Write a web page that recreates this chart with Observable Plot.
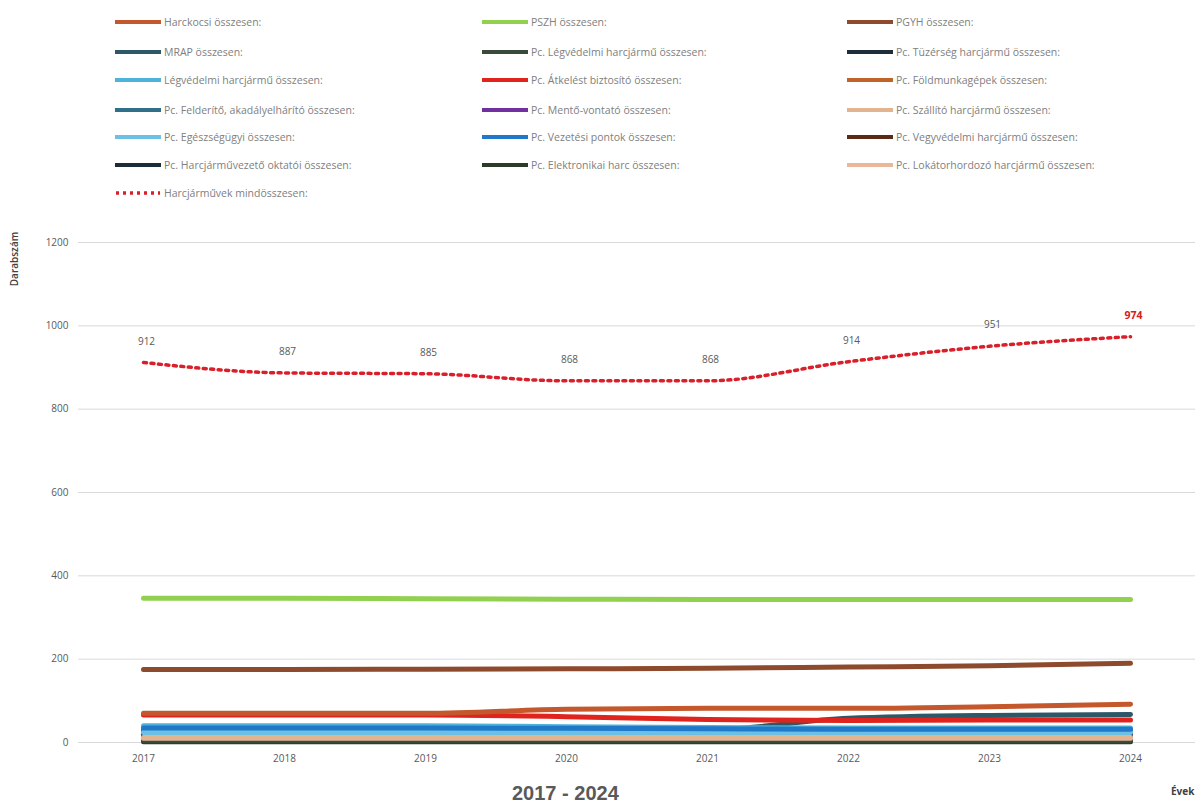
<!DOCTYPE html>
<html>
<head>
<meta charset="utf-8">
<script src="https://cdn.jsdelivr.net/npm/d3@7"></script>
<script src="https://cdn.jsdelivr.net/npm/@observablehq/plot@0.6"></script>
<style>
  html, body { margin: 0; padding: 0; background: #fff; width: 1201px; height: 808px; overflow: hidden; font-family: "Open Sans", sans-serif; }
  #wrap { position: relative; width: 1201px; height: 808px; }
  .leg { position: absolute; display: flex; align-items: center; font-size: 10.5px; color: #808080; white-space: nowrap; }
  .leg svg { margin-right: 3px; }
  #chart { position: absolute; left: 0; top: 215px; }
  .lbl { position: absolute; color: #595959; }
</style>
</head>
<body>
<div id="wrap">
  <div id="legend"></div>
  <div id="chart"></div>
  <div class="lbl" style="left:-14px; top:252px; width:56px; text-align:center; transform: rotate(-90deg); font-size:10px; font-weight:600; color:#404040;">Darabszám</div>
  <div class="lbl" style="left:512px; top:782px; font-size:20px; font-weight:700; font-family:'Liberation Sans', sans-serif;">2017 - 2024</div>
  <div class="lbl" style="left:1171px; top:784px; font-size:10px; font-weight:700; color:#404040;">Évek</div>
</div>
<script>
// ---- data ----
const years = [2017, 2018, 2019, 2020, 2021, 2022, 2023, 2024];
const seriesNames = [
  "Harckocsi összesen:", "PSZH összesen:", "PGYH összesen:",
  "MRAP összesen:", "Pc. Légvédelmi harcjármű összesen:", "Pc. Tüzérség harcjármű összesen:",
  "Légvédelmi harcjármű összesen:", "Pc. Átkelést biztosító összesen:", "Pc. Földmunkagépek összesen:",
  "Pc. Felderítő, akadályelhárító összesen:", "Pc. Mentő-vontató összesen:", "Pc. Szállító harcjármű összesen:",
  "Pc. Egészségügyi összesen:", "Pc. Vezetési pontok összesen:", "Pc. Vegyvédelmi harcjármű összesen:",
  "Pc. Harcjárművezető oktatói összesen:", "Pc. Elektronikai harc összesen:", "Pc. Lokátorhordozó harcjármű összesen:"
];
const seriesColors = [
  "#c4582c", "#92d050", "#8e4a2c",
  "#2c5868", "#3a4a3a", "#1f2d3a",
  "#4fb3d9", "#e0231c", "#c0652a",
  "#2f6f8a", "#7030a0", "#e2b48f",
  "#6cc0e6", "#1f78c8", "#5a2a15",
  "#1c2c38", "#2b3b26", "#e8b898"
];
const harckocsi     = [70, 70, 70, 80, 82, 82, 86, 92];
const pszh          = [346, 346, 345, 344, 343, 343, 343, 343];
const pgyh          = [175, 175, 176, 177, 178, 181, 184, 190];
const mrap          = [28, 28, 28, 28, 30, 58, 65, 67];
const pcLegvedelmi  = [4, 4, 4, 4, 4, 4, 4, 4];
const pcTuzerseg    = [20, 20, 20, 20, 20, 20, 20, 20];
const legvedelmi    = [40, 40, 40, 38, 36, 35, 35, 35];
const pcAtkeles     = [66, 66, 66, 62, 55, 53, 54, 54];
const pcFoldmunka   = [12, 12, 12, 12, 12, 12, 12, 12];
const pcFelderito   = [30, 30, 30, 30, 30, 30, 30, 30];
const pcMento       = [14, 14, 14, 14, 14, 14, 14, 14];
const pcSzallito    = [12, 12, 12, 12, 12, 12, 12, 12];
const pcEgeszseg    = [24, 24, 24, 24, 24, 24, 24, 24];
const pcVezetesi    = [35, 35, 35, 34, 33, 32, 32, 32];
const pcVegyvedelmi = [8, 8, 8, 8, 8, 8, 8, 8];
const pcOktatoi     = [6, 6, 6, 6, 6, 6, 6, 6];
const pcElektronikai= [2, 2, 2, 2, 2, 2, 2, 2];
const pcLokator     = [10, 10, 10, 10, 10, 10, 10, 10];
const totalName = "Harcjárművek mindösszesen:";
const total         = [912, 887, 885, 868, 868, 914, 951, 974];
const yTicks = [0, 200, 400, 600, 800, 1000, 1200];

const seriesValues = [
  harckocsi, pszh, pgyh, mrap, pcLegvedelmi, pcTuzerseg, legvedelmi, pcAtkeles, pcFoldmunka,
  pcFelderito, pcMento, pcSzallito, pcEgeszseg, pcVezetesi, pcVegyvedelmi, pcOktatoi, pcElektronikai, pcLokator
];

// drawing order (later on top)
const drawOrder = [16, 15, 14, 4, 5, 8, 10, 3, 9, 17, 11, 12, 6, 13, 7, 0, 2, 1];
const rows = [];
drawOrder.forEach((si, k) => {
  years.forEach((yr, i) => rows.push({ series: seriesNames[si], order: k, year: String(yr), value: seriesValues[si][i] }));
});
const totalRows = years.map((yr, i) => ({ year: String(yr), value: total[i], last: i === years.length - 1 }));

// ---- legend ----
const legend = document.getElementById("legend");
const colX = [115, 482, 847];
const rowY = [22, 52, 80, 110, 137, 165, 193];
function addLegend(name, color, i, dotted) {
  const col = i % 3, row = Math.floor(i / 3);
  const d = document.createElement("div");
  d.className = "leg";
  d.style.left = colX[col] + "px";
  d.style.top = (rowY[row] - 8) + "px";
  d.style.height = "16px";
  const line = dotted
    ? `<svg width="46" height="8"><line x1="1" y1="4" x2="45" y2="4" stroke="${color}" stroke-width="3.5" stroke-dasharray="3,4"/></svg>`
    : `<svg width="46" height="8"><line x1="0" y1="4" x2="46" y2="4" stroke="${color}" stroke-width="4"/></svg>`;
  d.innerHTML = line + `<span>${name}</span>`;
  legend.appendChild(d);
}
seriesNames.forEach((n, i) => addLegend(n, seriesColors[i], i, false));
addLegend(totalName, "#d9202a", 18, true);

// ---- chart ----
const chart = Plot.plot({
  width: 1201,
  height: 593,
  marginTop: 27,
  marginBottom: 66,
  marginLeft: 78,
  marginRight: 6,
  style: { fontFamily: "Open Sans, sans-serif", fontSize: "10px", color: "#595959", background: "#fff" },
  x: { type: "point", domain: years.map(String), padding: 0.458, label: null, tickSize: 0, tickPadding: 12 },
  y: { domain: [0, 1200], ticks: yTicks, tickFormat: d => String(d), label: null, tickSize: 0, tickPadding: 10 },
  color: { domain: seriesNames, range: seriesColors },
  marks: [
    Plot.gridY(yTicks, { stroke: "#d9d9d9", strokeOpacity: 1, strokeWidth: 1 }),
    Plot.line(rows, { x: "year", y: "value", z: "series", stroke: "series", strokeWidth: 5, curve: "monotone-x", sort: "order" }),
    Plot.line(totalRows, { x: "year", y: "value", stroke: "#d9202a", strokeWidth: 3.5, strokeDasharray: "3,4.5", curve: "monotone-x" }),
    Plot.text(totalRows.filter(d => !d.last), { x: "year", y: "value", text: d => String(d.value), dy: -21, dx: 3,
      fill: "#595959", fontSize: 10 }),
    Plot.text(totalRows.filter(d => d.last), { x: "year", y: "value", text: d => String(d.value), dy: -21, dx: 3,
      fill: "#d42020", fontWeight: "bold", fontSize: 10.5 })
  ]
});
document.getElementById("chart").appendChild(chart);
</script>
</body>
</html>
